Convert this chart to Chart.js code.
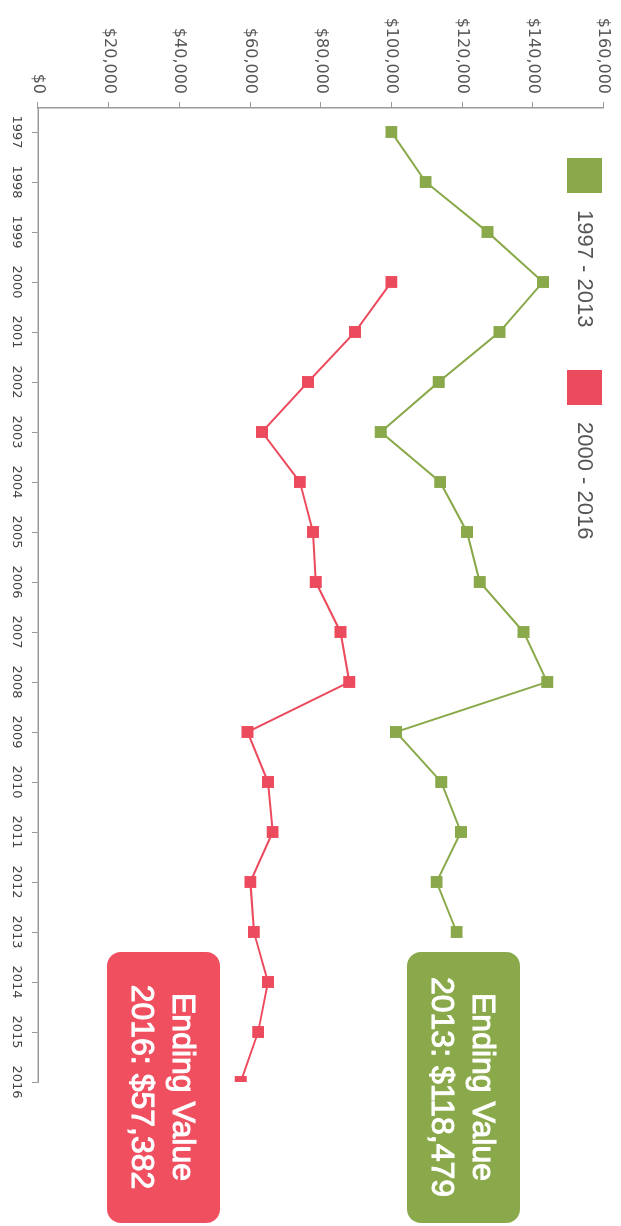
<!DOCTYPE html>
<html lang="en">
<head>
    <meta charset="utf-8">
    <title>Ending Value</title>
    <script src="https://cdn.jsdelivr.net/npm/chart.js"></script>
    <style>
        html, body { margin: 0; padding: 0; background: #fff; overflow: hidden; }
        /* chart is drawn landscape and turned a quarter clockwise */
        .wrap {
            position: absolute; top: 0; left: 0;
            width: 1226px; height: 621px;
            transform-origin: 0 0;
            transform: translateX(621px) rotate(90deg);
        }
    </style>
</head>
<body>
    <div class="wrap">
        <canvas id="myChart" width="1226" height="621"></canvas>
    </div>

    <script>
        const years1 = [1997, 1998, 1999, 2000, 2001, 2002, 2003, 2004, 2005, 2006, 2007, 2008, 2009, 2010, 2011, 2012, 2013];
        const values1 = [100000, 109700, 127200, 142900, 130600, 113400, 97000, 113800, 121400, 125000, 137400, 144100, 101300, 114100, 119700, 112800, 118479];

        const years2 = [2000, 2001, 2002, 2003, 2004, 2005, 2006, 2007, 2008, 2009, 2010, 2011, 2012, 2013, 2014, 2015, 2016];
        const values2 = [100000, 89700, 76400, 63400, 74100, 77800, 78600, 85600, 88100, 59300, 65100, 66400, 60100, 61100, 65100, 62300, 57382];

        const seriesNames = ['1997 - 2013', '2000 - 2016'];
        const endLabels = [['Ending Value', '2013: $118,479'], ['Ending Value', '2016: $57,382']];
        const yTicks = [0, 20000, 40000, 60000, 80000, 100000, 120000, 140000, 160000];

        const green = '#8aa94b';
        const red = '#ec4b5e';

        function pts(xs, ys) {
            return xs.map((x, i) => ({ x: x, y: ys[i] }));
        }

        // legend + the two "Ending Value" boxes
        const extras = {
            id: 'extras',
            afterDraw(chart) {
                const ctx = chart.ctx;
                ctx.save();

                const cols = [green, red];
                const lx = [158, 370];
                ctx.font = '22px "Liberation Sans", Arial, sans-serif';
                ctx.textBaseline = 'middle';
                ctx.textAlign = 'left';
                for (let i = 0; i < 2; i++) {
                    ctx.fillStyle = cols[i];
                    ctx.fillRect(lx[i], 19, 35, 35);
                    ctx.fillStyle = '#555';
                    ctx.fillText(seriesNames[i], lx[i] + 52, 37);
                }

                const boxes = [[952, 101, green], [952, 401, '#f04f60']];
                ctx.font = '32px "Liberation Sans", Arial, sans-serif';
                ctx.textAlign = 'center';
                ctx.lineWidth = 1;
                ctx.strokeStyle = '#fff';
                boxes.forEach((b, i) => {
                    ctx.fillStyle = b[2];
                    ctx.beginPath();
                    ctx.roundRect(b[0], b[1], 271, 113, 14);
                    ctx.fill();
                    ctx.fillStyle = '#fff';
                    endLabels[i].forEach((t, j) => {
                        ctx.fillText(t, b[0] + 135, b[1] + 38 + j * 41);
                        ctx.strokeText(t, b[0] + 135, b[1] + 38 + j * 41);
                    });
                });
                ctx.restore();
            }
        };

        const config = {
            type: 'line',
            data: {
                datasets: [{
                    label: seriesNames[0],
                    data: pts(years1, values1),
                    borderColor: green,
                    backgroundColor: green,
                    pointBackgroundColor: green,
                    pointBorderColor: green,
                    borderWidth: 2,
                    pointStyle: 'rect',
                    pointRadius: 7,
                    tension: 0
                }, {
                    label: seriesNames[1],
                    data: pts(years2, values2),
                    borderColor: red,
                    backgroundColor: red,
                    pointBackgroundColor: red,
                    pointBorderColor: red,
                    borderWidth: 2,
                    pointStyle: 'rect',
                    pointRadius: 7,
                    tension: 0
                }]
            },
            options: {
                responsive: false,
                animation: false,
                devicePixelRatio: 1,
                layout: { padding: { top: 17, right: 144, left: 0, bottom: 0 } },
                plugins: {
                    legend: { display: false },
                    tooltip: { enabled: false }
                },
                scales: {
                    x: {
                        type: 'linear',
                        min: 1996.52,
                        max: 2016,
                        afterFit(s) { s.height = 38; },
                        grid: { drawOnChartArea: false, tickLength: 6, color: '#999' },
                        border: { color: '#999', width: 1.5 },
                        ticks: {
                            stepSize: 1,
                            includeBounds: false,
                            maxRotation: 0,
                            autoSkip: false,
                            padding: 8,
                            color: '#444',
                            font: { family: 'DejaVu Sans', size: 13 },
                            callback: v => String(v)
                        }
                    },
                    y: {
                        min: 0,
                        max: 160000,
                        afterFit(s) { s.width = 108; },
                        afterBuildTicks(s) { s.ticks = yTicks.map(v => ({ value: v })); },
                        grid: { drawOnChartArea: false, tickLength: 6, color: '#999' },
                        border: { color: '#999', width: 1.5 },
                        ticks: {
                            padding: 8,
                            color: '#555',
                            font: { family: 'DejaVu Sans', size: 16 },
                            callback: v => '$' + v.toLocaleString('en-US')
                        }
                    }
                }
            },
            plugins: [extras]
        };

        const myLineChart = new Chart(document.getElementById('myChart'), config);
    </script>
</body>
</html>
